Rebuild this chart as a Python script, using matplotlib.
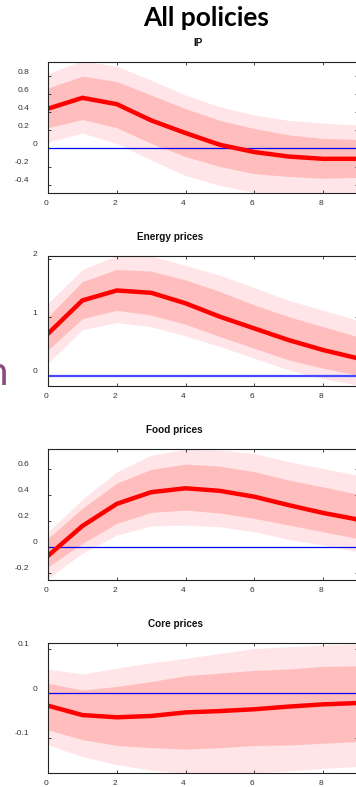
import matplotlib
matplotlib.use("Agg")
import matplotlib.pyplot as plt
import matplotlib.transforms as mtrans
import numpy as np

# horizon (months)
h = [0, 1, 2, 3, 4, 5, 6, 7, 8, 9]

# IP
ip_med = [0.44, 0.56, 0.49, 0.31, 0.17, 0.04, -0.04, -0.09, -0.115, -0.115]
ip_in_hi = [0.67, 0.80, 0.74, 0.59, 0.44, 0.31, 0.22, 0.15, 0.11, 0.10]
ip_in_lo = [0.23, 0.32, 0.23, 0.055, -0.09, -0.20, -0.28, -0.31, -0.33, -0.32]
ip_out_hi = [0.83, 0.97, 0.91, 0.755, 0.59, 0.46, 0.37, 0.31, 0.28, 0.26]
ip_out_lo = [0.07, 0.17, 0.055, -0.13, -0.30, -0.41, -0.49, -0.52, -0.53, -0.53]

# Energy prices
en_med = [0.72, 1.29, 1.46, 1.42, 1.24, 1.01, 0.81, 0.61, 0.44, 0.30]
en_in_hi = [1.01, 1.61, 1.82, 1.79, 1.64, 1.44, 1.21, 1.01, 0.84, 0.67]
en_in_lo = [0.44, 0.98, 1.12, 1.04, 0.88, 0.67, 0.47, 0.27, 0.13, 0.01]
en_out_hi = [1.24, 1.82, 2.06, 2.05, 1.89, 1.72, 1.51, 1.29, 1.12, 0.95]
en_out_lo = [0.21, 0.79, 0.91, 0.84, 0.68, 0.50, 0.30, 0.10, -0.05, -0.16]

# Food prices
fd_med = [-0.07, 0.16, 0.33, 0.42, 0.45, 0.43, 0.385, 0.32, 0.26, 0.21]
fd_in_hi = [0.065, 0.295, 0.49, 0.595, 0.636, 0.62, 0.577, 0.513, 0.46, 0.405]
fd_in_lo = [-0.154, 0.026, 0.18, 0.265, 0.282, 0.26, 0.218, 0.167, 0.115, 0.064]
fd_out_hi = [0.115, 0.365, 0.577, 0.705, 0.75, 0.745, 0.718, 0.654, 0.603, 0.55]
fd_out_lo = [-0.243, -0.05, 0.09, 0.16, 0.167, 0.154, 0.115, 0.057, 0.013, -0.038]

# Core prices
cr_med = [-0.028, -0.049, -0.054, -0.051, -0.043, -0.040, -0.036, -0.030, -0.025, -0.022]
cr_in_hi = [0.022, 0.007, 0.015, 0.026, 0.039, 0.045, 0.051, 0.054, 0.060, 0.061]
cr_in_lo = [-0.082, -0.104, -0.117, -0.122, -0.125, -0.122, -0.117, -0.116, -0.112, -0.108]
cr_out_hi = [0.054, 0.043, 0.056, 0.068, 0.078, 0.089, 0.100, 0.104, 0.108, 0.110]
cr_out_lo = [-0.116, -0.142, -0.160, -0.172, -0.179, -0.180, -0.178, -0.174, -0.168, -0.164]

titles = ["IP", "Energy prices", "Food prices", "Core prices"]
ylims = [(-0.49, 0.96), (-0.17, 2.05), (-0.256, 0.75), (-0.178, 0.113)]
yticks = [[-0.4, -0.2, 0, 0.2, 0.4, 0.6, 0.8], [0, 1, 2],
          [-0.2, 0, 0.2, 0.4, 0.6], [-0.1, 0, 0.1]]
ytlabels = [["-0.4", "-0.2", "0", "0.2", "0.4", "0.6", "0.8"], ["0", "1", "2"],
            ["-0.2", "0", "0.2", "0.4", "0.6"], ["-0.1", "0", "0.1"]]
xticks = [0, 2, 4, 6, 8]

panels = [
    (ip_med, ip_in_lo, ip_in_hi, ip_out_lo, ip_out_hi),
    (en_med, en_in_lo, en_in_hi, en_out_lo, en_out_hi),
    (fd_med, fd_in_lo, fd_in_hi, fd_out_lo, fd_out_hi),
    (cr_med, cr_in_lo, cr_in_hi, cr_out_lo, cr_out_hi),
]

W, H = 356, 787
fig = plt.figure(figsize=(W / 100, H / 100), dpi=100)
fig.patch.set_facecolor("white")

# axes boxes in pixels (top, bottom)
boxes = [(61.7, 192.7), (256, 385.7), (449.3, 580), (642.7, 772.7)]
left_px, right_px = 48, 357.6

def off(dx, dy):
    return mtrans.ScaledTranslation(dx / 100, dy / 100, fig.dpi_scale_trans)

for i, (top, bot) in enumerate(boxes):
    ax = fig.add_axes([left_px / W, 1 - bot / H, (right_px - left_px) / W, (bot - top) / H])
    med, in_lo, in_hi, out_lo, out_hi = panels[i]
    ax.fill_between(h, out_lo, out_hi, color="#ffe5e7", lw=0)
    ax.fill_between(h, in_lo, in_hi, color="#ffbdbd", lw=0)
    if i == 1:
        ax.axhline(0, color="#4848ff", lw=1.6)
    else:
        ax.axhline(0, color="#0000ff", lw=0.9)
    ax.plot(h, med, color="#ff0000", lw=3.2, solid_joinstyle="miter")
    ax.set_xlim(0, 9)
    ax.set_ylim(*ylims[i])
    ax.set_xticks(xticks)
    ax.set_yticks(yticks[i])
    ax.tick_params(direction="in", length=2.2, width=0.6, color="#222222",
                   top=True, right=True, labelleft=False, labelbottom=False)
    for s in ax.spines.values():
        s.set_linewidth(0.8)
        s.set_color("#222222")

    # tick labels
    for v, lab in zip(yticks[i], ytlabels[i]):
        dx = -18.5 if "." in lab else -11
        ax.text(0, v, lab, ha="right", va="center", fontsize=6,
                family="Liberation Sans", color="#333333",
                transform=ax.get_yaxis_transform() + off(dx, 4))
    for v in xticks:
        ax.text(v, 0, str(v), ha="center", va="top", fontsize=6,
                family="Liberation Sans", color="#333333",
                transform=ax.get_xaxis_transform() + off(-2, -7))

    ax.text(0.5, 1, titles[i], ha="right", va="baseline", fontsize=7.2,
            fontweight="bold", family="Liberation Sans", color="#111111",
            transform=ax.transAxes + off(0, 16))

fig.text(206.5 / W, 1 - 26 / H, "All policies", ha="center", va="baseline",
         fontsize=19, fontweight="bold", family="Lato", color="black")
fig.text(8 / W, 1 - 385 / H, "n", ha="right", va="baseline",
         fontsize=29, family="Lato", color="#8a4c7c")

fig.savefig("out.png", dpi=100)
